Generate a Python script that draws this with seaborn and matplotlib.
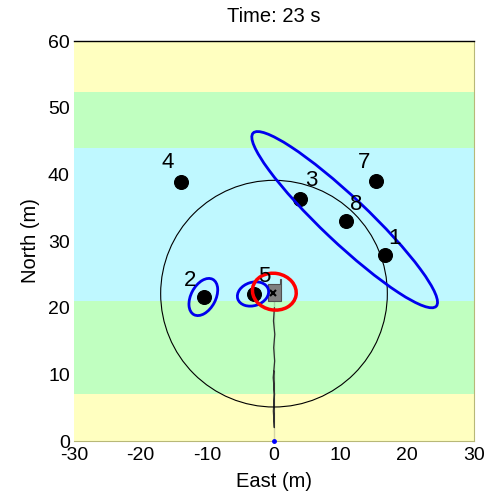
import numpy as np
import pandas as pd
import matplotlib
matplotlib.use("Agg")
import matplotlib.pyplot as plt
from matplotlib.patches import Ellipse, Circle, Polygon
import seaborn as sns

# Terrain bands (north extents) and their fill colours
band_edges = [0.0, 7.05, 21.0, 44.0, 52.35, 60.0]
band_colors = ["#FFFFC0", "#C0FFC0", "#BFF8FF", "#C0FFC0", "#FFFFC0"]

# Landmarks
landmark_ids = ["1", "2", "3", "4", "5", "7", "8"]
landmark_east = [16.6, -10.5, 3.9, -14.0, -3.05, 15.35, 10.75]
landmark_north = [27.85, 21.55, 36.3, 38.8, 22.0, 39.0, 33.0]
label_east = [18.1, -12.65, 5.65, -15.95, -1.4, 13.45, 12.4]
label_north = [30.45, 24.15, 39.0, 41.7, 24.75, 41.7, 35.55]

# Landmark position estimates (center east, center north, width, height, angle deg)
est_east = [10.6, -10.6, -3.15]
est_north = [33.2, 21.6, 22.05]
est_width = [37.8, 6.0, 4.8]
est_height = [6.8, 3.7, 3.5]
est_angle = [-43.4, 62.0, 18.0]

# Vehicle pose uncertainty
veh_east, veh_north = -0.1, 22.25
veh_cov_width, veh_cov_height, veh_cov_angle = 5.5, 6.6, 80.0
sensor_range = 17.0

# Vehicle trajectory so far
path_east = [0.0, 0.05, -0.1, 0.08, -0.12, 0.1, -0.05, 0.12, -0.08, 0.06, 0.0]
path_north = [0.0, 2.0, 4.5, 7.0, 9.5, 12.0, 14.0, 16.0, 18.0, 20.0, 21.0]

sns.set_theme(style="white")
plt.rcParams["font.family"] = ["Liberation Sans", "DejaVu Sans"]
plt.rcParams["axes.unicode_minus"] = False
for key in ("text.color", "axes.labelcolor", "xtick.color", "ytick.color"):
    plt.rcParams[key] = "black"

fig = plt.figure(figsize=(4.91, 5.00), dpi=100)
ax = fig.add_axes([0.1507, 0.118, 0.8147, 0.8])

for lo, hi, c in zip(band_edges[:-1], band_edges[1:], band_colors):
    ax.axhspan(lo, hi, color=c, lw=0, zorder=0)

path_df = pd.DataFrame({"east": path_east, "north": path_north})
sns.lineplot(data=path_df, x="east", y="north", sort=False, color="#303030",
             lw=0.9, ax=ax, zorder=2)
ax.plot([path_east[0]], [path_north[0]], marker="o", ms=2.5, color="blue",
        zorder=3, clip_on=False)

ax.add_patch(Circle((veh_east + 0.1, veh_north - 0.15), sensor_range, fill=False,
                    ec="black", lw=0.8, zorder=2))

lm_df = pd.DataFrame({"east": landmark_east, "north": landmark_north})
sns.scatterplot(data=lm_df, x="east", y="north", s=100, color="black",
                edgecolor="black", ax=ax, zorder=4)
for t, lx, ly in zip(landmark_ids, label_east, label_north):
    ax.text(lx, ly, t, fontsize=16, ha="center", va="center", zorder=6)

for ex, ey, w, h, a in zip(est_east, est_north, est_width, est_height, est_angle):
    ax.add_patch(Ellipse((ex, ey), w, h, angle=a, fill=False, ec="#0000EE",
                         lw=2.0, zorder=5))

# Vehicle body
body = Polygon([[veh_east - 0.75, veh_north - 1.3], [veh_east + 1.15, veh_north - 1.3],
                [veh_east + 1.15, veh_north + 2.0], [veh_east + 1.0, veh_north + 2.0],
                [veh_east + 1.0, veh_north + 1.3], [veh_east - 0.75, veh_north + 1.3]],
               closed=True, fc="#808080", ec="#505050", lw=0.8, zorder=3)
ax.add_patch(body)
ax.plot([veh_east], [veh_north], marker="x", ms=4, mew=1.5, color="black", zorder=4)

ax.add_patch(Ellipse((veh_east + 0.15, veh_north + 0.15), veh_cov_width, veh_cov_height,
                     angle=veh_cov_angle, fill=False, ec="#FF0000", lw=2.5, zorder=5))

ax.set_xlim(-30, 30)
ax.set_ylim(0, 60)
ax.set_aspect("auto")
ax.set_xticks(np.arange(-30, 31, 10))
ax.set_yticks(np.arange(0, 61, 10))
ax.tick_params(axis="both", labelsize=14, length=2, width=0.6, color="black",
               labelcolor="black", direction="out")
ax.tick_params(axis="x", pad=2)
ax.tick_params(axis="y", pad=1)
ax.set_xlabel("East (m)", fontsize=14.5, labelpad=6, color="black")
ax.set_ylabel("North (m)", fontsize=14.5, labelpad=6, color="black")
ax.set_title("Time: 23 s", fontsize=14.5, pad=14, color="black")

ax.spines["left"].set_visible(False)
ax.spines["top"].set_color("black")
ax.spines["top"].set_linewidth(1.0)
for side in ("right", "bottom"):
    ax.spines[side].set_color("#B8B878")
    ax.spines[side].set_linewidth(0.8)

fig.savefig("out.png", dpi=100)
